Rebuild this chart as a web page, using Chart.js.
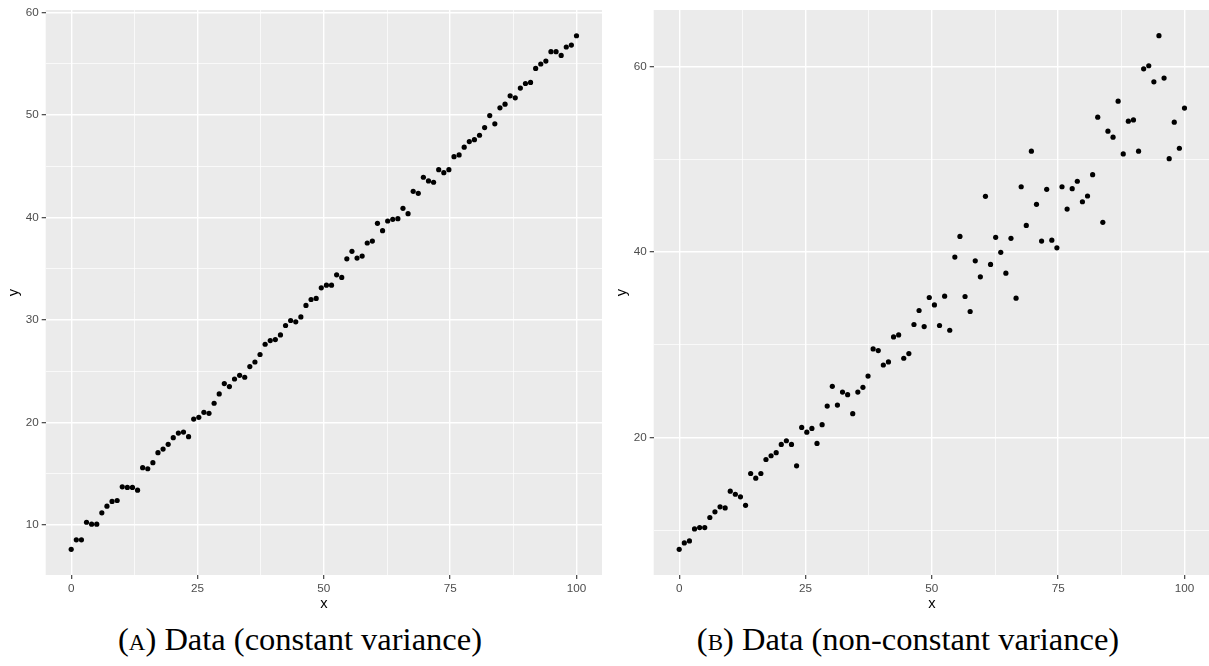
<!DOCTYPE html>
<html>
<head>
<meta charset="utf-8">
<script src="https://cdn.jsdelivr.net/npm/chart.js@4/dist/chart.umd.min.js"></script>
<style>
  html, body { margin: 0; padding: 0; background: #ffffff; width: 1209px; height: 666px; overflow: hidden; }
  .panel { position: absolute; top: 0; width: 605px; height: 615px; }
  .caption { position: absolute; top: 623px; font-family: "Liberation Serif", "DejaVu Serif", serif; font-size: 32.5px; line-height: 33px; color: #000; white-space: nowrap; transform: translateX(-50%); }
  .sc { font-variant: small-caps; }
</style>
</head>
<body>
<div class="panel" style="left:0px"><canvas id="chartA" width="605" height="615"></canvas></div>
<div class="panel" style="left:608px"><canvas id="chartB" width="605" height="615"></canvas></div>
<div class="caption" id="capA" style="left:300px"></div>
<div class="caption" id="capB" style="left:908px"></div>
<script>
// ---- data ----
const xValues = [0, 1.01, 2.02, 3.03, 4.04, 5.05, 6.06, 7.07, 8.08, 9.09,
  10.1, 11.11, 12.12, 13.13, 14.14, 15.15, 16.16, 17.17, 18.18, 19.19,
  20.2, 21.21, 22.22, 23.23, 24.24, 25.25, 26.26, 27.27, 28.28, 29.29,
  30.3, 31.31, 32.32, 33.33, 34.34, 35.35, 36.36, 37.37, 38.38, 39.39,
  40.4, 41.41, 42.42, 43.43, 44.44, 45.45, 46.46, 47.47, 48.48, 49.49,
  50.51, 51.52, 52.53, 53.54, 54.55, 55.56, 56.57, 57.58, 58.59, 59.6,
  60.61, 61.62, 62.63, 63.64, 64.65, 65.66, 66.67, 67.68, 68.69, 69.7,
  70.71, 71.72, 72.73, 73.74, 74.75, 75.76, 76.77, 77.78, 78.79, 79.8,
  80.81, 81.82, 82.83, 83.84, 84.85, 85.86, 86.87, 87.88, 88.89, 89.9,
  90.91, 91.92, 92.93, 93.94, 94.95, 95.96, 96.97, 97.98, 98.99, 100];

const yConstant = [7.63, 8.55, 8.55, 10.27, 10.08, 10.08, 11.19, 11.84, 12.30, 12.39,
  13.73, 13.67, 13.67, 13.40, 15.59, 15.49, 16.08, 17.06, 17.41, 17.87,
  18.52, 18.97, 19.07, 18.62, 20.34, 20.51, 21.00, 20.90, 21.88, 22.79,
  23.80, 23.51, 24.25, 24.61, 24.42, 25.46, 25.91, 26.64, 27.64, 28.00,
  28.10, 28.55, 29.47, 29.96, 29.83, 30.31, 31.43, 32.01, 32.11, 33.15,
  33.41, 33.41, 34.42, 34.16, 35.98, 36.71, 36.05, 36.25, 37.52, 37.71,
  39.44, 38.72, 39.67, 39.83, 39.90, 40.91, 40.38, 42.57, 42.37, 43.94,
  43.58, 43.45, 44.68, 44.39, 44.68, 45.95, 46.12, 46.87, 47.42, 47.61,
  48.04, 48.79, 49.96, 49.15, 50.71, 51.07, 51.89, 51.69, 52.64, 53.09,
  53.19, 54.56, 54.99, 55.28, 56.19, 56.19, 55.83, 56.65, 56.84, 57.75];

const yNonConstant = [7.92, 8.61, 8.83, 10.12, 10.26, 10.26, 11.35, 11.96, 12.50, 12.39,
  14.19, 13.86, 13.58, 12.67, 16.10, 15.59, 16.10, 17.61, 18.01, 18.34,
  19.23, 19.63, 19.23, 16.93, 21.07, 20.56, 20.96, 19.34, 21.36, 23.37,
  25.50, 23.48, 24.88, 24.60, 22.55, 24.88, 25.39, 26.61, 29.53, 29.36,
  27.80, 28.13, 30.83, 31.04, 28.53, 29.03, 32.17, 33.68, 31.95, 35.08,
  34.28, 32.06, 35.22, 31.55, 39.44, 41.67, 35.19, 33.57, 39.04, 37.31,
  46.00, 38.65, 41.57, 39.95, 37.71, 41.46, 35.01, 47.03, 42.86, 50.86,
  45.13, 41.17, 46.75, 41.27, 40.44, 47.03, 44.62, 46.82, 47.62, 45.41,
  46.03, 48.33, 54.53, 43.19, 53.02, 52.37, 56.26, 50.57, 54.10, 54.24,
  50.86, 59.75, 60.08, 58.35, 63.32, 58.75, 50.06, 53.99, 51.18, 55.51];

const xMajorTicks = [0, 25, 50, 75, 100];
const xMinorTicks = [12.5, 37.5, 62.5, 87.5];
const yConstMajorTicks = [10, 20, 30, 40, 50, 60];
const yConstMinorTicks = [15, 25, 35, 45, 55];
const yNonMajorTicks = [20, 40, 60];
const yNonMinorTicks = [10, 30, 50];
const xTitle = 'x';
const yTitle = 'y';
const captionLetters = ['a', 'b'];
const captionTexts = ['Data (constant variance)', 'Data (non-constant variance)'];

// ---- rendering ----
const panelBg = {
  id: 'panelBg',
  beforeDraw(chart) {
    const {ctx, chartArea: {left, top, width, height}} = chart;
    ctx.save();
    ctx.fillStyle = '#EBEBEB';
    ctx.fillRect(left, top, width, height);
    ctx.restore();
  }
};

function makeAxis(isX, min, max, majors, minors, title) {
  const all = majors.concat(minors).sort((a, b) => a - b);
  const isMajor = v => majors.includes(v);
  return {
    type: 'linear',
    position: isX ? 'bottom' : 'left',
    min: min,
    max: max,
    afterBuildTicks: scale => { scale.ticks = all.map(v => ({value: v})); },
    afterFit: scale => { if (isX) scale.height = 40; else scale.width = 45.7; },
    border: {display: false},
    grid: {
      color: '#FFFFFF',
      lineWidth: ctx => (ctx.tick && isMajor(ctx.tick.value)) ? 1.4 : 0.7,
      drawTicks: true,
      tickLength: 4,
      tickWidth: 1.1,
      tickColor: ctx => (ctx.tick && isMajor(ctx.tick.value)) ? '#333333' : 'rgba(0,0,0,0)'
    },
    ticks: {
      autoSkip: false,
      maxRotation: 0,
      padding: 3,
      color: '#4D4D4D',
      font: {family: 'Liberation Sans', size: 11.7},
      callback: v => isMajor(v) ? String(v) : ''
    },
    title: {
      display: true,
      text: title,
      color: '#000000',
      font: {family: 'Liberation Sans', size: 14.7},
      padding: isX ? {top: 0, bottom: 2} : {top: 5, bottom: 0}
    }
  };
}

function makeChart(id, ys, yMin, yMax, yMaj, yMin2) {
  const pts = xValues.map((x, i) => ({x: x, y: ys[i]}));
  return new Chart(document.getElementById(id), {
    type: 'scatter',
    data: {datasets: [{data: pts, backgroundColor: '#000000', borderWidth: 0, pointRadius: 2.6, pointHoverRadius: 2.6}]},
    options: {
      responsive: false,
      animation: false,
      devicePixelRatio: 1,
      layout: {padding: {top: 9.3, right: 3, left: 0, bottom: 0}},
      plugins: {legend: {display: false}, tooltip: {enabled: false}},
      scales: {
        x: makeAxis(true, -5.05, 105.05, xMajorTicks, xMinorTicks, xTitle),
        y: makeAxis(false, yMin, yMax, yMaj, yMin2, yTitle)
      }
    },
    plugins: [panelBg]
  });
}

makeChart('chartA', yConstant, 5.12, 60.26, yConstMajorTicks, yConstMinorTicks);
makeChart('chartB', yNonConstant, 5.15, 66.09, yNonMajorTicks, yNonMinorTicks);

['capA', 'capB'].forEach((id, k) => {
  const el = document.getElementById(id);
  el.innerHTML = '';
  el.appendChild(document.createTextNode('('));
  const sc = document.createElement('span');
  sc.className = 'sc';
  sc.textContent = captionLetters[k];
  el.appendChild(sc);
  el.appendChild(document.createTextNode(') ' + captionTexts[k]));
});
</script>
</body>
</html>
